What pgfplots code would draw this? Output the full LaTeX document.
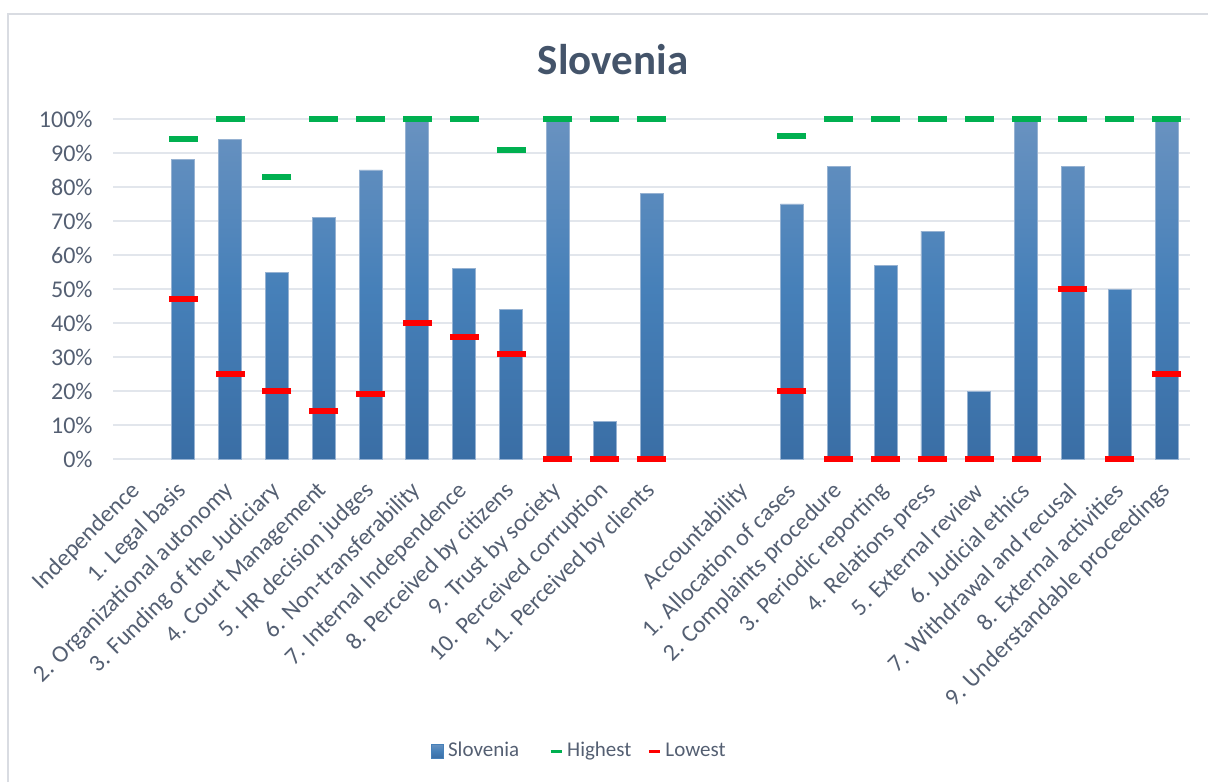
\documentclass[border=0pt]{standalone}
\usepackage{pgfplots}
\pgfplotsset{compat=1.18}
\usepackage{fontspec}
\setmainfont{Carlito}
\definecolor{barTop}{RGB}{105,146,192}
\definecolor{barMid}{RGB}{70,128,185}
\definecolor{barBot}{RGB}{58,110,165}
\definecolor{barEdge}{RGB}{150,178,210}
\definecolor{hiGreen}{RGB}{0,176,80}
\definecolor{loRed}{RGB}{255,0,0}
\definecolor{txt}{RGB}{84,95,114}
\definecolor{ttl}{RGB}{68,84,106}
\definecolor{gridc}{RGB}{226,230,236}
\definecolor{framec}{RGB}{217,220,226}
\begin{document}
\begin{tikzpicture}
\path[use as bounding box] (0,0) rectangle (604pt,391pt);
\draw[framec, line width=0.75pt] (4pt,0pt) -- (4pt,384pt) -- (604pt,384pt);
\node[anchor=base, font=\fontsize{21.5}{24}\selectfont\bfseries, text=ttl, inner sep=0pt] at (306.5pt,353.5pt) {Slovenia};
\begin{axis}[
  at={(56.5pt,161.5pt)}, anchor=south west,
  scale only axis, width=538.5pt, height=170pt,
  xmin=-0.5, xmax=22.5, ymin=0, ymax=100,
  clip=false,
  axis line style={draw=none},
  major tick length=0pt,
  ymajorgrids, grid style={gridc, line width=0.75pt},
  ytick={0,10,...,100},
  yticklabels={0\%,10\%,20\%,30\%,40\%,50\%,60\%,70\%,80\%,90\%,100\%},
  yticklabel style={font=\fontsize{12}{14}\selectfont, text=txt, inner sep=0pt},
  yticklabel shift=10pt,
  xtick={0,...,22},
  xticklabels={Independence, 1. Legal basis, 2. Organizational autonomy, 3. Funding of the Judiciary, 4. Court Management, 5. HR decision judges, 6. Non-transferability, 7. Internal Independence, 8. Perceived by citizens, 9. Trust by society, 10. Perceived corruption, 11. Perceived by clients, {}, Accountability, 1. Allocation of cases, 2. Complaints procedure, 3. Periodic reporting, 4. Relations press, 5. External review, 6. Judicial ethics, 7. Withdrawal and recusal, 8. External activities, 9. Understandable proceedings},
  xticklabel style={font=\fontsize{12}{14}\selectfont, text=txt, rotate=45, anchor=east, inner sep=0pt},
  xticklabel shift=14pt,
  legend columns=3,
  legend style={at={(0.434,-0.859)}, anchor=center, draw=none, fill=none,
    font=\fontsize{10.5}{12}\selectfont, text=txt,
    /tikz/column 2/.style={column sep=13pt},
    /tikz/column 4/.style={column sep=6pt}},
]
\addplot[ybar, bar width=11.5pt, draw=barEdge, line width=0.4pt,
  top color=barTop, bottom color=barBot, middle color=barMid,
  legend image code/.code={\fill[barMid] (0pt,-3.5pt) rectangle (6pt,3.5pt);}]
coordinates {(1,88) (2,94) (3,55) (4,71) (5,85) (6,100) (7,56) (8,44) (9,100) (10,11) (11,78)
 (14,75) (15,86) (16,57) (17,67) (18,20) (19,100) (20,86) (21,50) (22,100)};
\addlegendentry{Slovenia}
\addplot[only marks, mark=-, mark size=7.25pt, mark options={draw=hiGreen, line width=3pt},
  legend image code/.code={\draw[hiGreen, line width=1.5pt] (0pt,0pt) -- (5.5pt,0pt);}]
coordinates {(1,94) (2,100) (3,83) (4,100) (5,100) (6,100) (7,100) (8,91) (9,100) (10,100) (11,100)
 (14,95) (15,100) (16,100) (17,100) (18,100) (19,100) (20,100) (21,100) (22,100)};
\addlegendentry{Highest}
\addplot[only marks, mark=-, mark size=7.25pt, mark options={draw=loRed, line width=3pt},
  legend image code/.code={\draw[loRed, line width=1.5pt] (0pt,0pt) -- (5.5pt,0pt);}]
coordinates {(1,47) (2,25) (3,20) (4,14) (5,19) (6,40) (7,36) (8,31) (9,0) (10,0) (11,0)
 (14,20) (15,0) (16,0) (17,0) (18,0) (19,0) (20,50) (21,0) (22,25)};
\addlegendentry{Lowest}
\end{axis}
\end{tikzpicture}
\end{document}
